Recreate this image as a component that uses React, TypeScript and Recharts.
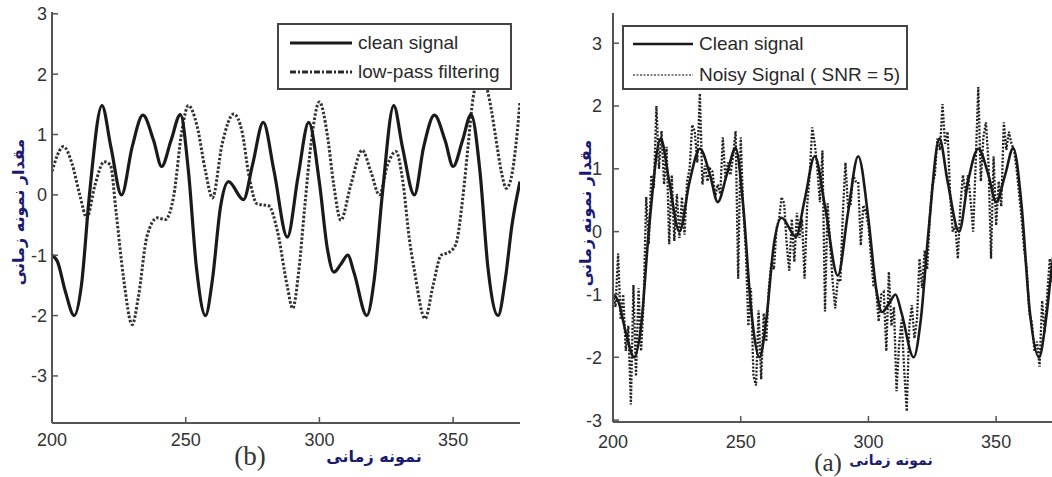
import React from 'react';
import { LineChart, Line, XAxis, YAxis, Legend } from 'recharts';

// ---------- data ----------
const xTicks = [200, 250, 300, 350];
const yTicks = [-3, -2, -1, 0, 1, 2, 3];
const xDomain: [number, number] = [200, 375];
const leftYDomain: [number, number] = [-3.78, 3.03];
const rightYDomain: [number, number] = [-3.03, 3.48];

const cleanT = [200, 202, 205, 208.3, 211, 214, 218.7, 222, 226, 230, 234, 238, 241, 244.5, 248, 251, 254, 257.4, 260, 263, 266, 271.6, 275, 279, 283, 288, 292, 296, 300, 303, 305.4, 308, 310.6, 313, 317.7, 320.5, 323.5, 327.8, 331, 335.5, 339, 343, 347, 350, 353.5, 356.7, 360, 363, 366.8, 369.5, 372, 375];
const cleanV = [-1.0, -1.1, -1.6, -2.0, -1.5, 0.0, 1.48, 0.8, 0.0, 0.8, 1.32, 0.9, 0.47, 0.9, 1.33, 0.4, -1.2, -2.0, -1.4, -0.2, 0.22, -0.08, 0.5, 1.2, 0.4, -0.7, 0.3, 1.2, 0.2, -0.9, -1.28, -1.15, -1.0, -1.3, -2.0, -1.4, 0.0, 1.48, 0.8, 0.0, 0.8, 1.32, 0.9, 0.47, 0.9, 1.33, 0.4, -1.2, -2.0, -1.4, -0.5, 0.22];

const lowT = [200, 204.3, 207.4, 210.5, 213, 216, 219.5, 221.8, 224, 226.7, 230, 232.3, 235.5, 239.4, 242.4, 245.5, 248.6, 251, 254.2, 257.4, 260, 263.6, 268, 271.1, 273.6, 276.7, 281, 284.3, 288, 290, 292.3, 294.5, 297, 300, 303, 305.4, 308, 311.7, 316, 319.2, 322.4, 325.5, 328.6, 331.1, 333.6, 335.5, 339.5, 342.5, 345.5, 348.5, 351, 353.6, 355.5, 357.4, 360.3, 363, 364.2, 366, 368, 369.9, 371.7, 373.6, 375];
const lowV = [0.39, 0.8, 0.53, -0.02, -0.38, 0.15, 0.55, 0.5, -0.3, -1.36, -2.15, -1.69, -0.69, -0.38, -0.41, -0.02, 1.07, 1.48, 1.15, 0.39, -0.05, 0.84, 1.34, 1.04, 0.33, -0.15, -0.18, -0.6, -1.52, -1.88, -1.25, -0.2, 0.9, 1.54, 0.98, 0.15, -0.42, 0.16, 0.74, 0.39, 0.0, 0.5, 0.72, 0.25, -0.72, -1.25, -2.05, -1.5, -1.0, -0.95, -0.82, -0.05, 0.77, 1.59, 2.0, 1.7, 1.43, 0.93, 0.39, 0.11, 0.28, 0.88, 1.55];

const noisyStart = 200;
const noisyV = [
  -1.0, -1.2, -0.35, -1.4, -1.0, -1.9, -1.5, -2.75, -0.85, -2.3,
  -0.9, -1.9, -1.1, 0.55, -0.2, 0.9, 0.7, 2.0, 1.0, 1.6,
  0.75, 1.35, -0.2, 0.9, -0.15, 0.6, -0.1, 0.55, -0.05, 0.8,
  1.0, 1.7, 1.6, 1.1, 2.2, 0.75, 1.05, 0.8, 1.0, 0.95,
  0.55, 0.75, 0.6, 1.5, 0.85, 1.1, 0.9, 1.2, 1.6, -0.75,
  1.5, 0.35, -0.3, -1.5, -0.9, -2.3, -2.45, -1.25, -2.35, -1.3,
  -1.75, -0.9, -0.5, -0.6, 0.05, 0.2, 0.55, 0.45, -0.2, -0.62,
  0.2, -0.48, 0.3, -0.1, 0.2, -0.75, 0.4, 0.9, 1.66, 1.4,
  1.0, 0.47, 1.29, -1.27, 0.45, -0.2, -0.8, -1.22, -0.75, -0.8,
  0.3, 1.1, 0.4, 0.42, 0.9, 0.8, 0.79, -0.22, 0.42, 0.3,
  0.1, -0.4, -0.86, -0.9, -1.43, -1.0, -0.96, -1.9, -0.64, -1.5,
  -1.2, -2.54, -1.8, -1.4, -2.2, -2.86, -1.5, -1.17, -1.7, -1.4,
  -0.43, -0.9, -0.3, -0.6, 0.2, 0.73, 0.9, 1.48, 1.3, 2.03,
  1.4, 1.59, 0.58, 0.0, 0.1, -0.43, 0.42, 0.9, 0.6, 0.9,
  0.5, 0.0, 1.1, 2.3, 0.8, 1.5, 1.74, 1.1, -0.43, 1.2,
  0.1, 0.8, 0.4, 1.74, 1.3, 1.59, 1.4, 1.3, 1.0, 0.6,
  0.2, -0.3, -0.6, -1.3, -1.45, -1.9, -1.75, -2.15, -1.1, -1.6,
  -1.0, -0.43, -0.8, -0.2, 0.1, 0.3,
];

const leftLegendLabels = ['clean signal', 'low-pass filtering'];
const rightLegendLabels = ['Clean signal', 'Noisy Signal ( SNR = 5)'];
const yTitle = 'مقدار نمونه زمانی';
const xTitle = 'نمونه زمانی';

const cleanData = cleanT.map((t, i) => ({ t, v: cleanV[i] }));
const lowData = lowT.map((t, i) => ({ t, v: lowV[i] }));
const noisyData = noisyV.map((v, i) => ({ t: noisyStart + i, v }));

// ---------- styles ----------
const AXIS = '#555555';
const TICK_FILL = '#333333';
const NAVY = '#1a1a70';
const SANS = '"Liberation Sans", Arial, Helvetica, sans-serif';
const FARSI = '"DejaVu Sans", sans-serif';
const TICK_LEN = 6;

const tickText = { fontFamily: SANS, fontSize: 18, fill: TICK_FILL };

const makeBottomTick = (margin: number) => (p: any) => {
  const ay = p.y - margin;
  return (
    <g>
      <line x1={p.x} x2={p.x} y1={ay} y2={ay - TICK_LEN} stroke={AXIS} strokeWidth={1.5} />
      <text x={p.x} y={p.y} dy="0.71em" textAnchor="middle" {...tickText}>{p.payload.value}</text>
    </g>
  );
};
const makeTopTick = () => (p: any) => (
  <line x1={p.x} x2={p.x} y1={p.y} y2={p.y + TICK_LEN} stroke={AXIS} strokeWidth={1.5} />
);
const makeLeftTick = (margin: number) => (p: any) => {
  const ax = p.x + margin;
  return (
    <g>
      <line x1={ax} x2={ax + TICK_LEN} y1={p.y} y2={p.y} stroke={AXIS} strokeWidth={1.5} />
      <text x={p.x} y={p.y} dy="0.355em" textAnchor="end" {...tickText}>{p.payload.value}</text>
    </g>
  );
};
const makeRightTick = () => (p: any) => (
  <line x1={p.x} x2={p.x - TICK_LEN} y1={p.y} y2={p.y} stroke={AXIS} strokeWidth={1.5} />
);

type LegendItem = { label: string; stroke: string; width: number; dash?: string };

function LegendBox({ items, sampleW, padTop, padLeft, rowH, fontSize }: { items: LegendItem[]; sampleW: number; padTop: number; padLeft: number; rowH: number; fontSize: number }) {
  return (
    <div style={{ background: '#fff', border: '2px solid #444', boxSizing: 'border-box', width: '100%', height: '100%', paddingTop: padTop, paddingLeft: padLeft, fontFamily: SANS, fontSize, color: '#2a2a2a' }}>
      {items.map((it) => (
        <div key={it.label} style={{ display: 'flex', alignItems: 'center', height: rowH, whiteSpace: 'nowrap' }}>
          <svg width={sampleW} height={10} style={{ marginRight: 6, flex: 'none' }}>
            <line x1={0} x2={sampleW} y1={5} y2={5} stroke={it.stroke} strokeWidth={it.width} strokeDasharray={it.dash} />
          </svg>
          <span>{it.label}</span>
        </div>
      ))}
    </div>
  );
}

const axisLine = { stroke: AXIS, strokeWidth: 2 };

const abs = (left: number, top: number, extra: React.CSSProperties = {}): React.CSSProperties => ({
  position: 'absolute', left, top, transform: 'translate(-50%, -50%)', whiteSpace: 'nowrap', ...extra,
});

export default function App() {
  return (
    <div style={{ position: 'absolute', left: 0, top: 0, width: 1052, height: 477, overflow: 'hidden', background: '#fff' }}>
      {/* ---------- left panel (b) ---------- */}
      <div style={{ position: 'absolute', left: 0, top: 0 }}>
        <LineChart width={540} height={477} margin={{ top: 12, right: 20, left: 0, bottom: 0 }}>
          <XAxis dataKey="t" type="number" domain={xDomain} ticks={xTicks} interval={0} allowDataOverflow height={54} tickSize={0} tickMargin={10} tickLine={false} axisLine={axisLine} tick={makeBottomTick(10)} />
          <XAxis xAxisId="top" orientation="top" dataKey="t" type="number" domain={xDomain} ticks={xTicks} interval={0} allowDataOverflow height={0} tickSize={0} tickMargin={0} tickLine={false} axisLine={axisLine} tick={makeTopTick()} />
          <YAxis type="number" domain={leftYDomain} ticks={yTicks} interval={0} allowDataOverflow width={52} tickSize={0} tickMargin={5} tickLine={false} axisLine={axisLine} tick={makeLeftTick(5)} />
          <YAxis yAxisId="r" orientation="right" type="number" domain={leftYDomain} ticks={yTicks} interval={0} allowDataOverflow width={0} tickSize={0} tickMargin={0} tickLine={false} axisLine={axisLine} tick={makeRightTick()} />
          <Line data={lowData} dataKey="v" name={leftLegendLabels[1]} type="monotone" stroke="#333" strokeWidth={3} strokeDasharray="2.5 1.8" dot={false} activeDot={false} isAnimationActive={false} />
          <Line data={cleanData} dataKey="v" name={leftLegendLabels[0]} type="monotone" stroke="#1a1a1a" strokeWidth={3.2} dot={false} activeDot={false} isAnimationActive={false} />
          <Legend layout="vertical" align="center" verticalAlign="middle" wrapperStyle={{ left: 277, top: 23, width: 235, height: 67 }}
            content={() => (
              <LegendBox sampleW={62} padTop={3} padLeft={11} rowH={29} fontSize={19} items={[
                { label: leftLegendLabels[0], stroke: '#1a1a1a', width: 3 },
                { label: leftLegendLabels[1], stroke: '#2a2a2a', width: 3, dash: '6 2 2 2' },
              ]} />
            )} />
        </LineChart>
      </div>

      {/* ---------- right panel (a) ---------- */}
      <div style={{ position: 'absolute', left: 540, top: 0 }}>
        <LineChart width={540} height={477} margin={{ top: 13, right: 20, left: 0, bottom: 0 }}>
          <XAxis dataKey="t" type="number" domain={xDomain} ticks={xTicks} interval={0} allowDataOverflow height={55} tickSize={0} tickMargin={13} tickLine={false} axisLine={axisLine} tick={makeBottomTick(13)} />
          <XAxis xAxisId="top" orientation="top" dataKey="t" type="number" domain={xDomain} ticks={xTicks} interval={0} allowDataOverflow height={0} tickSize={0} tickMargin={0} tickLine={false} axisLine={axisLine} tick={makeTopTick()} />
          <YAxis type="number" domain={rightYDomain} ticks={yTicks} interval={0} allowDataOverflow width={73} tickSize={0} tickMargin={11} tickLine={false} axisLine={axisLine} tick={makeLeftTick(11)} />
          <YAxis yAxisId="r" orientation="right" type="number" domain={rightYDomain} ticks={yTicks} interval={0} allowDataOverflow width={0} tickSize={0} tickMargin={0} tickLine={false} axisLine={axisLine} tick={makeRightTick()} />
          <Line data={noisyData} dataKey="v" name={rightLegendLabels[1]} type="linear" stroke="#222" strokeWidth={2.3} strokeDasharray="2 1.6" dot={false} activeDot={false} isAnimationActive={false} />
          <Line data={cleanData} dataKey="v" name={rightLegendLabels[0]} type="monotone" stroke="#1a1a1a" strokeWidth={2.6} dot={false} activeDot={false} isAnimationActive={false} />
          <Legend layout="vertical" align="center" verticalAlign="middle" wrapperStyle={{ left: 82, top: 25, width: 286, height: 65 }}
            content={() => (
              <LegendBox sampleW={60} padTop={1} padLeft={9} rowH={31} fontSize={19} items={[
                { label: rightLegendLabels[0], stroke: '#1a1a1a', width: 2.5 },
                { label: rightLegendLabels[1], stroke: '#555', width: 1.5, dash: '2 1.5' },
              ]} />
            )} />
        </LineChart>
      </div>

      {/* ---------- titles ---------- */}
      <div style={abs(18, 212, { transform: 'translate(-50%, -50%) rotate(-90deg)', fontFamily: FARSI, fontSize: 16, fontWeight: 'bold', color: NAVY })}>{yTitle}</div>
      <div style={abs(374, 456, { fontFamily: FARSI, fontSize: 16, fontWeight: 'bold', color: NAVY })}>{xTitle}</div>
      <div style={abs(250, 456, { fontFamily: '"Liberation Serif", "Times New Roman", serif', fontSize: 27, color: '#333' })}>(b)</div>

      <div style={abs(585, 213, { transform: 'translate(-50%, -50%) rotate(-90deg)', fontFamily: FARSI, fontSize: 16, fontWeight: 'bold', color: NAVY })}>{yTitle}</div>
      <div style={abs(891, 460, { fontFamily: FARSI, fontSize: 14, fontWeight: 'bold', color: NAVY })}>{xTitle}</div>
      <div style={abs(828, 463, { fontFamily: '"Liberation Serif", "Times New Roman", serif', fontSize: 25, color: '#333' })}>(a)</div>
    </div>
  );
}
